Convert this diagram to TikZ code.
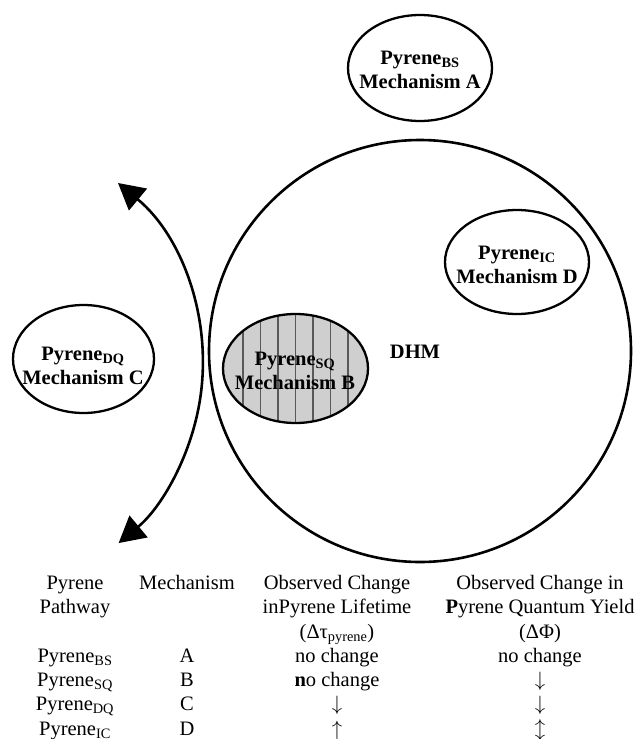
\documentclass[tikz,border=0pt]{standalone}
\usepackage{fontspec}
\setmainfont{Liberation Serif}
\usetikzlibrary{arrows.meta}
\begin{document}
\begin{tikzpicture}[x=1pt,y=-1pt,
  lab/.style={font=\fontsize{20.5}{24}\selectfont\bfseries, align=center, inner sep=0pt},
  tab/.style={font=\fontsize{20.5}{24}\selectfont, anchor=base, inner sep=0pt},
  ring/.style={line width=2.6pt},
  oval/.style={line width=2.3pt},
  hatchline/.style={line width=1.1pt, draw=black!65},
  curvearrow/.style={line width=2.6pt, {Triangle[length=26pt,width=28pt]}-{Triangle[length=26pt,width=28pt]}}]
\useasboundingbox (0,0) rectangle (638,739);

% big DHM circle
\draw[ring] (420,351) circle[radius=211pt];
\node[lab] (dhm) at (415,352) {DHM};

% Mechanism A
\draw[oval] (420,68) ellipse[x radius=72pt, y radius=53pt];
\node[lab] (ma) at (420,70) {Pyrene\textsubscript{BS}\\Mechanism A};

% Mechanism D
\draw[oval] (517,262) ellipse[x radius=72pt, y radius=52pt];
\node[lab] (md) at (517,265) {Pyrene\textsubscript{IC}\\Mechanism D};

% Mechanism C
\draw[oval] (83.5,359) ellipse[x radius=70.5pt, y radius=54pt];
\node[lab] (mc) at (83,365.5) {Pyrene\textsubscript{DQ}\\Mechanism C};

% Mechanism B (hatched)
\begin{scope}
  \clip (295.5,368.5) ellipse[x radius=72.5pt, y radius=54.5pt];
  \fill[black!19] (220,310) rectangle (372,426);
  \foreach \x in {243,260.5,...,348.5} \draw[hatchline] (\x,310) -- (\x,426);
\end{scope}
\draw[oval] (295.5,368.5) ellipse[x radius=72.5pt, y radius=54.5pt];
\node[lab] (mb) at (295,370.5) {Pyrene\textsubscript{SQ}\\Mechanism B};

% double-headed arc
\coordinate (arctop) at (118,183);
\draw[curvearrow] (arctop) arc[start angle=50.4, end angle=-50.2, radius=234pt];

% table
\node[tab] (h1a) at (75,589) {Pyrene};
\node[tab] (h1b) at (75,613) {Pathway};
\node[tab] (h2a) at (187,589) {Mechanism};
\node[tab] (h3a) at (337,589) {Observed Change};
\node[tab] (h3b) at (337,613) {inPyrene Lifetime};
\node[tab] (h3c) at (337,638) {(Δτ\textsubscript{pyrene})};
\node[tab] (h4a) at (540,589) {Observed Change in};
\node[tab] (h4b) at (540,613) {\textbf{P}yrene Quantum Yield};
\node[tab] (h4c) at (540,638) {(ΔΦ)};

\node[tab] (r1a) at (75,662) {Pyrene\textsubscript{BS}};
\node[tab] (r2a) at (75,686) {Pyrene\textsubscript{SQ}};
\node[tab] (r3a) at (75,710) {Pyrene\textsubscript{DQ}};
\node[tab] (r4a) at (75,735) {Pyrene\textsubscript{IC}};

\node[tab] (r1b) at (187,662) {A};
\node[tab] (r2b) at (187,686) {B};
\node[tab] (r3b) at (187,710) {C};
\node[tab] (r4b) at (187,735) {D};

\node[tab] (r1c) at (337,662) {no change};
\node[tab] (r2c) at (337,686) {\textbf{n}o change};
\node[tab] (r3c) at (337,710) {$\downarrow$};
\node[tab] (r4c) at (337,735) {$\uparrow$};

\node[tab] (r1d) at (540,662) {no change};
\node[tab] (r2d) at (540,686) {$\downarrow$};
\node[tab] (r3d) at (540,710) {$\downarrow$};
\node[tab] (r4d) at (540,735) {$\updownarrow$};
\end{tikzpicture}
\end{document}
